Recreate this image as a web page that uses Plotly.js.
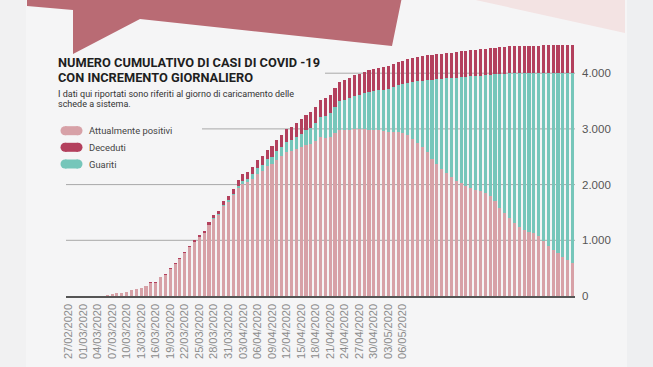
<!DOCTYPE html>
<html>
<head>
<meta charset="utf-8">
<script src="https://cdn.plot.ly/plotly-3.0.1.min.js"></script>
<style>html,body{margin:0;padding:0;background:#f5f5f6;}#chart{width:653px;height:367px;}</style>
</head>
<body>
<div id="chart"></div>
<script>
const dates = [
"27/02/2020","28/02/2020","29/02/2020",
"01/03/2020","02/03/2020","03/03/2020","04/03/2020","05/03/2020","06/03/2020","07/03/2020","08/03/2020","09/03/2020","10/03/2020",
"11/03/2020","12/03/2020","13/03/2020","14/03/2020","15/03/2020","16/03/2020","17/03/2020","18/03/2020","19/03/2020","20/03/2020",
"21/03/2020","22/03/2020","23/03/2020","24/03/2020","25/03/2020","26/03/2020","27/03/2020","28/03/2020","29/03/2020","30/03/2020","31/03/2020",
"01/04/2020","02/04/2020","03/04/2020","04/04/2020","05/04/2020","06/04/2020","07/04/2020","08/04/2020","09/04/2020","10/04/2020",
"11/04/2020","12/04/2020","13/04/2020","14/04/2020","15/04/2020","16/04/2020","17/04/2020","18/04/2020","19/04/2020","20/04/2020",
"21/04/2020","22/04/2020","23/04/2020","24/04/2020","25/04/2020","26/04/2020","27/04/2020","28/04/2020","29/04/2020","30/04/2020",
"01/05/2020","02/05/2020","03/05/2020","04/05/2020","05/05/2020","06/05/2020","07/05/2020","08/05/2020","09/05/2020","10/05/2020",
"11/05/2020","12/05/2020","13/05/2020","14/05/2020","15/05/2020","16/05/2020","17/05/2020","18/05/2020","19/05/2020","20/05/2020",
"21/05/2020","22/05/2020","23/05/2020","24/05/2020","25/05/2020","26/05/2020","27/05/2020","28/05/2020","29/05/2020","30/05/2020","31/05/2020",
"01/06/2020","02/06/2020","03/06/2020","04/06/2020","05/06/2020","06/06/2020","07/06/2020","08/06/2020","09/06/2020","10/06/2020"
];

const tickLabels = [
"27/02/2020","01/03/2020","04/03/2020","07/03/2020","10/03/2020","13/03/2020","16/03/2020","19/03/2020",
"22/03/2020","25/03/2020","28/03/2020","31/03/2020","03/04/2020","06/04/2020","09/04/2020","12/04/2020",
"15/04/2020","18/04/2020","21/04/2020","24/04/2020","27/04/2020","30/04/2020","03/05/2020","06/05/2020"
];

const positivi = [
0,0,0,0,0,0,0,0,25,35,
50,60,80,100,125,148,182,240,239,342,
385,488,570,657,773,879,972,1055,1127,1267,
1381,1455,1618,1687,1805,1935,2018,2040,2102,2195,
2248,2330,2362,2445,2508,2580,2602,2645,2673,2717,
2735,2784,2853,2832,2852,2922,2983,2979,2986,2993,
2991,2994,2983,2982,2977,2962,2948,2944,2940,2921,
2882,2819,2746,2668,2580,2467,2369,2281,2206,2130,
2070,2029,1976,1945,1910,1878,1846,1794,1702,1588,
1493,1406,1319,1240,1190,1151,1123,1074,984,895,
834,765,704,654,593
];

const guariti = [
0,0,0,0,0,0,0,0,0,0,
0,0,0,0,0,0,0,0,0,0,
0,0,0,0,0,0,3,5,8,10,
14,18,22,28,35,45,55,65,80,95,
110,125,140,155,170,185,200,215,235,260,
290,320,360,400,430,470,520,545,570,600,
620,650,680,700,720,745,770,800,840,880,
940,1020,1110,1200,1300,1420,1530,1620,1700,1780,
1850,1900,1960,2000,2040,2080,2120,2180,2280,2400,
2500,2590,2680,2760,2810,2850,2880,2930,3020,3110,
3170,3240,3300,3350,3410
];

const deceduti = [
0,0,0,0,0,0,0,0,0,0,
0,0,0,0,0,2,3,5,6,8,
10,12,15,18,22,26,30,35,40,48,
55,62,70,80,90,100,112,125,138,150,
162,175,188,200,212,225,238,250,262,273,
285,296,307,318,328,338,347,356,364,372,
379,386,392,398,403,408,412,416,420,424,
428,431,434,437,440,443,446,449,452,455,
458,461,464,467,470,472,474,476,478,480,
482,484,486,488,490,491,492,493,494,495,
496,497,498,499,500
];

const seriesNames = ["Attualmente positivi","Deceduti","Guariti"];
const colPos = "#d7a1a7", colDec = "#b3405d", colGua = "#76c6ba";

const W = 653, H = 367, ML = 66, MR = 78, MB = 71, MT = 37;
const PW = W - ML - MR, PH = H - MT - MB;
const px = x => (x - ML) / PW;
const py = y => (H - MB - y) / PH;

const traces = [
  {type:"bar", x:dates, y:positivi, name:seriesNames[0], marker:{color:colPos}, hoverinfo:"skip"},
  {type:"bar", x:dates, y:guariti, name:seriesNames[2], marker:{color:colGua}, hoverinfo:"skip"},
  {type:"bar", x:dates, y:deceduti, name:seriesNames[1], marker:{color:colDec}, hoverinfo:"skip"}
];

const shapes = [];
shapes.push({type:"rect", xref:"paper", yref:"paper", x0:px(627), x1:px(660), y0:py(370), y1:py(-5), fillcolor:"#eeeff1", line:{width:0}, layer:"below"});
shapes.push({type:"rect", xref:"paper", yref:"paper", x0:px(-5), x1:px(26), y0:py(370), y1:py(-5), fillcolor:"#f1f1f2", line:{width:0}, layer:"below"});
shapes.push({type:"path", xref:"paper", yref:"paper", layer:"above",
  path:`M ${px(27)},${py(-3)} L ${px(27)},${py(6)} L ${px(73)},${py(10)} L ${px(73)},${py(54)} L ${px(140)},${py(19)} L ${px(392)},${py(46)} L ${px(402)},${py(-3)} Z`,
  fillcolor:"#b96b74", line:{width:0}});
shapes.push({type:"path", xref:"paper", yref:"paper", layer:"above",
  path:`M ${px(462)},${py(-3)} L ${px(625)},${py(33)} L ${px(625)},${py(-3)} Z`,
  fillcolor:"#f3e3e3", line:{width:0}});
const grid = [[1000, 0],[2000, 0],[3000, px(202)],[4000, px(325)]];
grid.forEach(g => shapes.push({type:"line", xref:"paper", yref:"y", x0:g[1], x1:1, y0:g[0], y1:g[0], line:{color:"#a8a8a8", width:1}, layer:"below"}));
const legendRows = [[seriesNames[0], colPos, 130.7],[seriesNames[1], colDec, 147.3],[seriesNames[2], colGua, 164]];
const annotations = [];
legendRows.forEach(r => {
  const yc = r[2];
  shapes.push({type:"rect", xref:"paper", yref:"paper", x0:px(65), x1:px(78), y0:py(yc+4.5), y1:py(yc-4.5), fillcolor:r[1], line:{width:0}, layer:"above"});
  shapes.push({type:"circle", xref:"paper", yref:"paper", x0:px(60.5), x1:px(69.5), y0:py(yc+4.5), y1:py(yc-4.5), fillcolor:r[1], line:{width:0}, layer:"above"});
  shapes.push({type:"circle", xref:"paper", yref:"paper", x0:px(73.5), x1:px(82.5), y0:py(yc+4.5), y1:py(yc-4.5), fillcolor:r[1], line:{width:0}, layer:"above"});
  annotations.push({xref:"paper", yref:"paper", x:px(86.5), y:py(yc), xanchor:"left", yanchor:"middle", showarrow:false,
    text:r[0], font:{family:"Roboto, sans-serif", size:9.4, color:"#444"}});
});
const titleFont = {family:"Roboto, sans-serif", size:12.8, color:"#1e1e1e", weight:700};
annotations.push({xref:"paper", yref:"paper", x:px(55.5), y:py(62.3), xanchor:"left", yanchor:"middle", showarrow:false,
  text:"<b>NUMERO CUMULATIVO DI CASI DI COVID -19</b>", font:titleFont});
annotations.push({xref:"paper", yref:"paper", x:px(55.5), y:py(77.7), xanchor:"left", yanchor:"middle", showarrow:false,
  text:"<b>CON INCREMENTO GIORNALIERO</b>", font:titleFont});
const subFont = {family:"Roboto, sans-serif", size:9.0, color:"#333"};
annotations.push({xref:"paper", yref:"paper", x:px(55.5), y:py(93.8), xanchor:"left", yanchor:"middle", showarrow:false,
  text:"I dati qui riportati sono riferiti al giorno di caricamento delle", font:subFont});
annotations.push({xref:"paper", yref:"paper", x:px(55.5), y:py(104.3), xanchor:"left", yanchor:"middle", showarrow:false,
  text:"schede a sistema.", font:subFont});

const layout = {
  width:W, height:H,
  margin:{l:ML, r:MR, t:MT, b:MB, pad:0},
  paper_bgcolor:"#f5f5f6", plot_bgcolor:"rgba(0,0,0,0)",
  barmode:"stack", bargap:0.36, showlegend:false,
  separators:",.",
  xaxis:{type:"category", categoryorder:"array", categoryarray:dates, range:[-0.5, dates.length-0.5],
    tickmode:"array", tickvals:tickLabels, ticktext:tickLabels, tickangle:-90,
    tickfont:{family:"Liberation Sans, Arial, sans-serif", size:11, color:"#8c8c8c"},
    showgrid:false, zeroline:false, showline:true, linecolor:"#555", linewidth:1.5, ticks:"", ticklabelstandoff:2, fixedrange:true},
  yaxis:{side:"right", range:[0, 4650], tickmode:"array", tickvals:[0,1000,2000,3000,4000], tickformat:",d",
    tickfont:{family:"Liberation Sans, Arial, sans-serif", size:11.5, color:"#555"},
    showgrid:false, zeroline:false, showline:false, ticks:"", ticklabelstandoff:6, fixedrange:true},
  shapes:shapes, annotations:annotations
};

Plotly.newPlot("chart", traces, layout, {displayModeBar:false, staticPlot:true});
</script>
</body>
</html>
